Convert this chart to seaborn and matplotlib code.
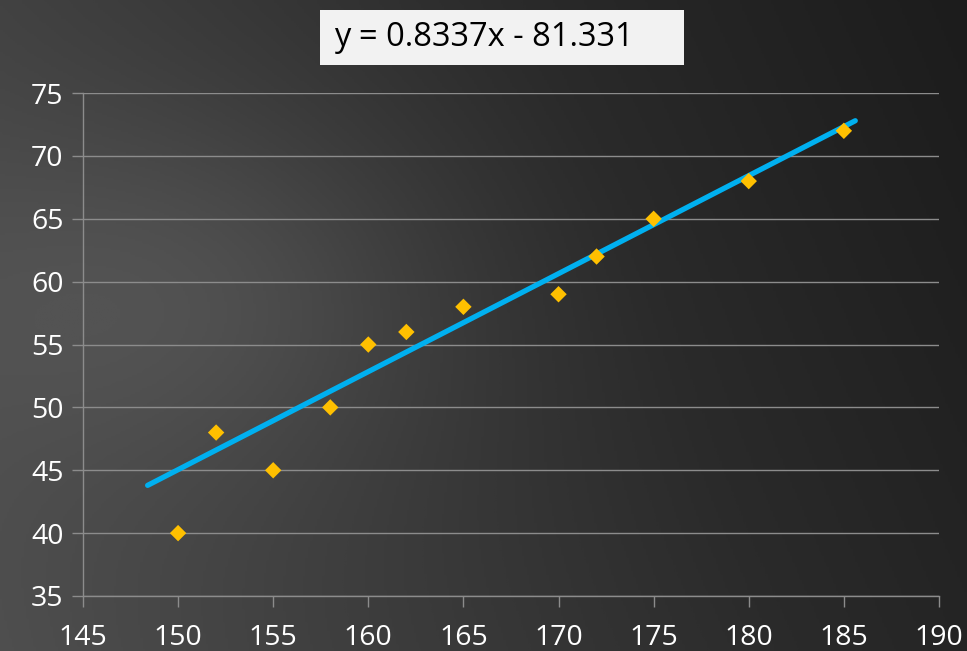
import numpy as np
import pandas as pd
import seaborn as sns
import matplotlib.pyplot as plt
from matplotlib.colors import LinearSegmentedColormap
from matplotlib.patches import Rectangle

# data
height = [150, 152, 155, 158, 160, 162, 165, 170, 172, 175, 180, 185]
weight = [40, 48, 45, 50, 55, 56, 58, 59, 62, 65, 68, 72]
trend_x = [148.4, 185.6]
trend_y = [43.8, 72.8]
equation = "y = 0.8337x - 81.331"
x_ticks = [145, 150, 155, 160, 165, 170, 175, 180, 185, 190]
y_ticks = [35, 40, 45, 50, 55, 60, 65, 70, 75]

sns.set_theme(style="dark")
plt.rcParams['font.family'] = ['Open Sans', 'DejaVu Sans']

fig = plt.figure(figsize=(9.67, 6.51), dpi=100)

# dark gradient background
bg = fig.add_axes([0, 0, 1, 1], zorder=-10)
gx, gy = np.meshgrid(np.linspace(0, 1, 400), np.linspace(0, 1, 300))
grad = 0.85 * gx + 0.25 * (1 - gy) - 0.35 * np.exp(-((gx - 0.2) ** 2 + (gy - 0.45) ** 2) / 0.08)
cmap = LinearSegmentedColormap.from_list("bg", ["#535353", "#3e3e3e", "#2a2a2a", "#1c1c1c"])
bg.imshow(grad, cmap=cmap, aspect="auto", extent=[0, 1, 0, 1], origin="upper")
bg.axis("off")

ax = fig.add_axes([0.0858, 0.0845, 0.8852, 0.7725])
ax.patch.set_alpha(0)

df = pd.DataFrame({"height": height, "weight": weight})
sns.scatterplot(data=df, x="height", y="weight", marker="D", s=70,
                color="#FFC000", edgecolor="none", ax=ax, zorder=4)
sns.lineplot(x=trend_x, y=trend_y, color="#00B0F0", linewidth=3.8, ax=ax, zorder=3)

ax.set_xlim(145, 190)
ax.set_ylim(35, 75)
ax.set_xticks(x_ticks)
ax.set_yticks(y_ticks)
ax.set_xlabel("")
ax.set_ylabel("")
ax.grid(axis="y", color="#8c8c8c", linewidth=1.0)
ax.grid(axis="x", visible=False)
for side in ["top", "right"]:
    ax.spines[side].set_visible(False)
for side in ["left", "bottom"]:
    ax.spines[side].set_visible(True)
    ax.spines[side].set_color("#8c8c8c")
    ax.spines[side].set_linewidth(1.0)
ax.tick_params(axis="both", colors="#8c8c8c", labelcolor="white", labelsize=20.5,
               length=8, width=1, direction="out", bottom=True, left=True)
ax.tick_params(axis="x", pad=12)
ax.tick_params(axis="y", pad=6)

# equation label box
fig.patches.append(Rectangle((0.331, 0.900), 0.376, 0.0845, transform=fig.transFigure,
                             facecolor="#f2f2f2", edgecolor="none", zorder=5))
fig.text(0.345, 0.9425, equation, fontsize=23.5, color="black", va="center", ha="left", zorder=6)

fig.savefig("out.png", dpi=100)
